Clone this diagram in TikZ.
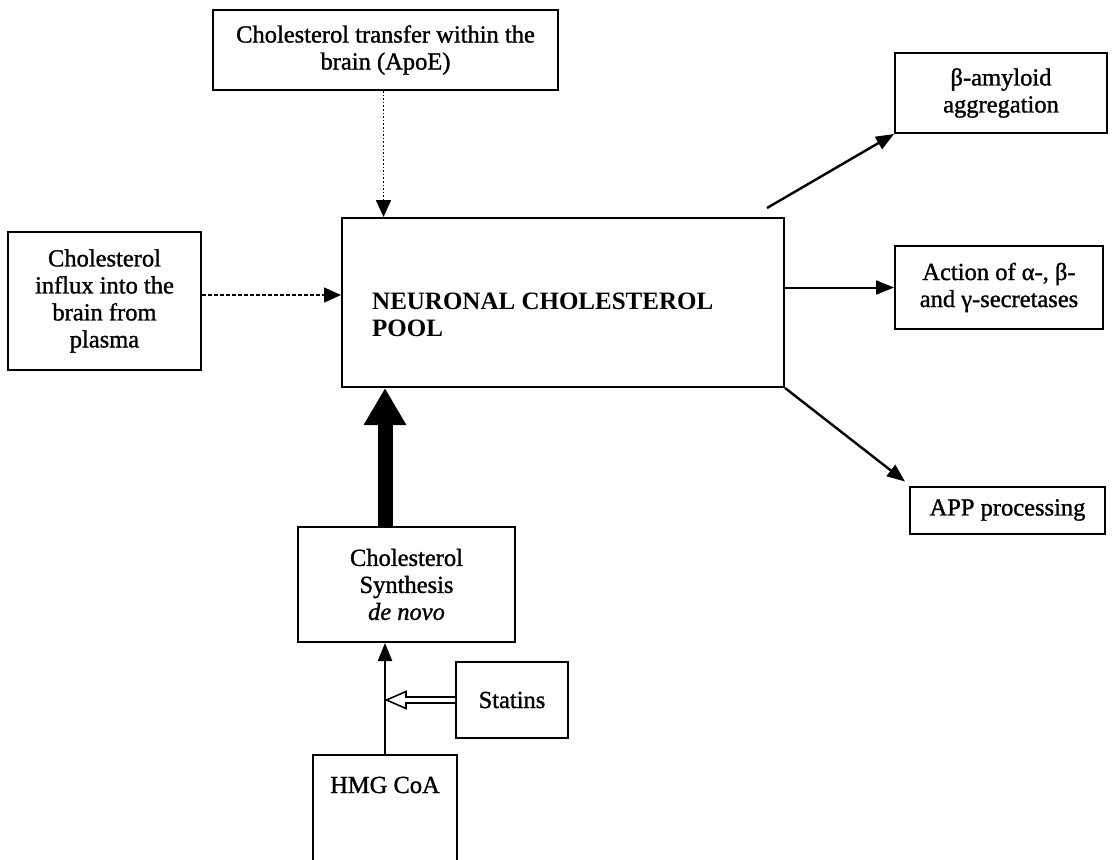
\documentclass[tikz,border=0pt]{standalone}
\usepackage{fontspec}
\setmainfont{Liberation Serif}
\newfontfamily\scanfont{Liberation Serif}[FakeBold=1.2]
\usetikzlibrary{arrows.meta,calc}
\begin{document}
\begin{tikzpicture}[x=1pt,y=-1pt,
  box/.style={draw=black, line width=2pt, inner sep=0pt, align=center,
    font=\scanfont\fontsize{24.5}{27}\selectfont},
  conn/.style={line width=2.4pt, -{Triangle[length=18pt,width=14pt]}},
  dotconn/.style={line width=1.6pt, dotted, -{Triangle[length=17pt,width=15pt]}},
  dashconn/.style={line width=1.5pt, dash pattern=on 4pt off 2pt, -{Triangle[length=17pt,width=15pt]}},
  thick arrow/.style={line width=15pt, -{Triangle[length=37pt,width=40pt]}}
]
\useasboundingbox (0,0) rectangle (1112,860);
\clip (0,0) rectangle (1112,860);
\fill[white] (0,0) rectangle (1112,860);

\node[box, minimum width=345pt, minimum height=80pt] (top) at (385.5,50)
  {Cholesterol transfer within the\\brain (ApoE)};
\node[box, minimum width=442pt, minimum height=169pt] (main) at (563,302.5) {};
\node[anchor=west, align=left, inner sep=0pt,
  font=\fontsize{25}{27}\selectfont\bfseries] (mainlabel) at (372,315)
  {NEURONAL CHOLESTEROL\\POOL};
\node[box, minimum width=193pt, minimum height=138pt] (left) at (104.5,301)
  {Cholesterol\\influx into the\\brain from\\plasma};
\node[box, minimum width=212pt, minimum height=80pt] (beta) at (1001,93)
  {β-amyloid\\aggregation};
\node[box, minimum width=208pt, minimum height=83pt] (action) at (999,287.5)
  {Action of α-, β-\\and γ-secretases};
\node[box, minimum width=195pt, minimum height=47pt] (app) at (1007.5,510)
  {APP processing};
\node[box, minimum width=217pt, minimum height=115pt] (synth) at (406.5,584.5)
  {Cholesterol\\Synthesis\\\textit{de novo}};
\node[box, minimum width=112pt, minimum height=76pt] (statins) at (512,700)
  {Statins};
\node[box, minimum width=144pt, minimum height=170pt] (hmg) at (385,840)
  {};
\node[font=\scanfont\fontsize{24.5}{27}\selectfont, inner sep=0pt] (hmglabel) at (385,785) {HMG CoA};

% connectors
\draw[dotconn] ($(top.south)+(-2,0)$) -- ($(top.south |- main.north)+(-2,0)$);
\draw[dashconn] (left.east |- 0,295) -- (main.west |- 0,295);
\coordinate (betastart) at (767,208);
\draw[conn] (betastart) -- (beta.south west);
\draw[conn, line width=2pt] (main.east |- action.west) -- (action.west);
\draw[conn] (main.south east) -- ($(app.north west)+(-4,-4)$);
\draw[thick arrow] (synth.north -| hmg.north) -- (main.south -| hmg.north);
\draw[conn] (hmg.north) -- (synth.south -| hmg.north);
% hollow block arrow from statins
\draw[line width=1.6pt, fill=white, line join=miter]
  ($(statins.west)+(0,-3)$) -- ($(statins.west -| hmg.north)+(21,-3)$)
  -- ($(statins.west -| hmg.north)+(21,-8.5)$)
  -- ($(statins.west -| hmg.north)+(1.5,0)$)
  -- ($(statins.west -| hmg.north)+(21,8.5)$)
  -- ($(statins.west -| hmg.north)+(21,3)$)
  -- ($(statins.west)+(0,3)$);
\end{tikzpicture}
\end{document}
